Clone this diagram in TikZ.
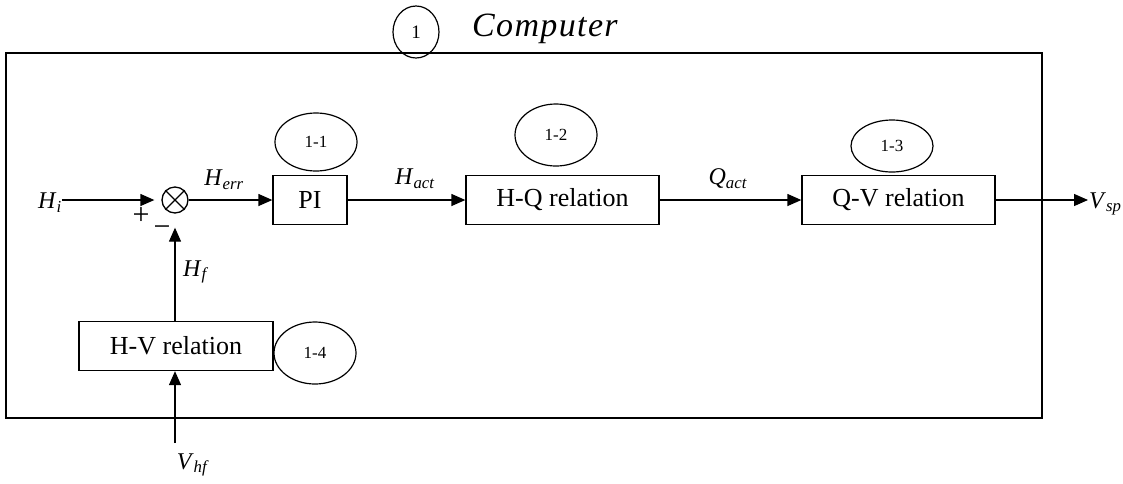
\documentclass[tikz,border=0pt]{standalone}
\usepackage{fontspec}
\setmainfont{Liberation Serif}
\usetikzlibrary{shapes.geometric,arrows.meta}
\newcommand\sigl[2]{\textit{#1}\textsubscript{\textit{#2}}}
\begin{document}
\begin{tikzpicture}[x=1pt,y=-1pt,
  blk/.style={draw, line width=1.3pt, minimum height=49pt, inner sep=0pt, font=\fontsize{26}{30}\selectfont},
  tag/.style={draw, ellipse, line width=1.2pt, minimum width=82pt, minimum height=58pt, inner sep=0pt, font=\fontsize{17}{19}\selectfont},
  sig/.style={inner sep=0pt, font=\fontsize{24}{27}\selectfont},
  arr/.style={-{Triangle[length=14pt,width=12pt]}, line width=1.3pt}]
\useasboundingbox (0,0) rectangle (1123,483);
% frame
\node[draw, line width=1.6pt, minimum width=1036pt, minimum height=365pt, inner sep=0pt] (frame) at (524,235.5) {};
\node[draw, ellipse, line width=1.2pt, minimum width=46pt, minimum height=52pt, inner sep=0pt, font=\fontsize{19}{21}\selectfont] (c1) at (416,32) {1};
\node[anchor=west, inner sep=0pt, font=\fontsize{34}{38}\selectfont\itshape\addfontfeatures{LetterSpace=4}] (comp) at (472,29) {Computer};
% blocks
\node[blk, minimum width=74pt] (pi) at (310,200) {PI};
\node[blk, minimum width=193pt] (hq) at (562.5,200) {H-Q relation};
\node[blk, minimum width=193pt] (qv) at (898.5,200) {Q-V relation};
\node[blk, minimum width=194pt] (hv) at (176,346) {H-V relation};
% tags
\node[tag] (t11) at (316,142) {1-1};
\node[tag, minimum height=62pt] (t12) at (556,135) {1-2};
\node[tag, minimum height=52pt] (t13) at (892,146) {1-3};
\node[tag, minimum height=62pt] (t14) at (315,353) {1-4};
% summing junction
\node[circle, draw, line width=1.3pt, minimum size=26pt, inner sep=0pt] (sum) at (175,200) {};
\draw[line width=1.3pt] (sum.north west) -- (sum.south east) (sum.north east) -- (sum.south west);
% signals
\node[sig] (hi) at (50,203) {\sigl{H}{i}};
\node[inner sep=0pt, font=\fontsize{30}{32}\selectfont] (plus) at (141,216) {+};
\node[inner sep=0pt, font=\fontsize{30}{32}\selectfont] (minus) at (162,231) {\textminus};
\node[sig] (herr) at (224,180) {\sigl{H}{err}};
\node[sig] (hact) at (415,179) {\sigl{H}{act}};
\node[sig] (qact) at (728,179) {\sigl{Q}{act}};
\node[sig] (hf) at (196,272) {\sigl{H}{f}};
\node[sig] (vhf) at (193,465) {\sigl{V}{hf}};
\coordinate (vout) at (1088,200);
\coordinate (vin) at (175,443);
\node[sig, anchor=west] (vsp) at (1089,204) {\sigl{V}{sp}};
% connectors
\draw[arr, shorten >=7pt] (hi.east |- sum) -- (sum.west);
\draw[arr] (sum.east) -- (pi.west);
\draw[arr] (pi.east) -- (hq.west);
\draw[arr] (hq.east) -- (qv.west);
\draw[arr] (qv.east) -- (vout);
\draw[arr, shorten >=14pt] (hv.north -| sum) -- (sum.south);
\draw[arr] (vin) -- (hv.south -| vin);
\end{tikzpicture}
\end{document}
